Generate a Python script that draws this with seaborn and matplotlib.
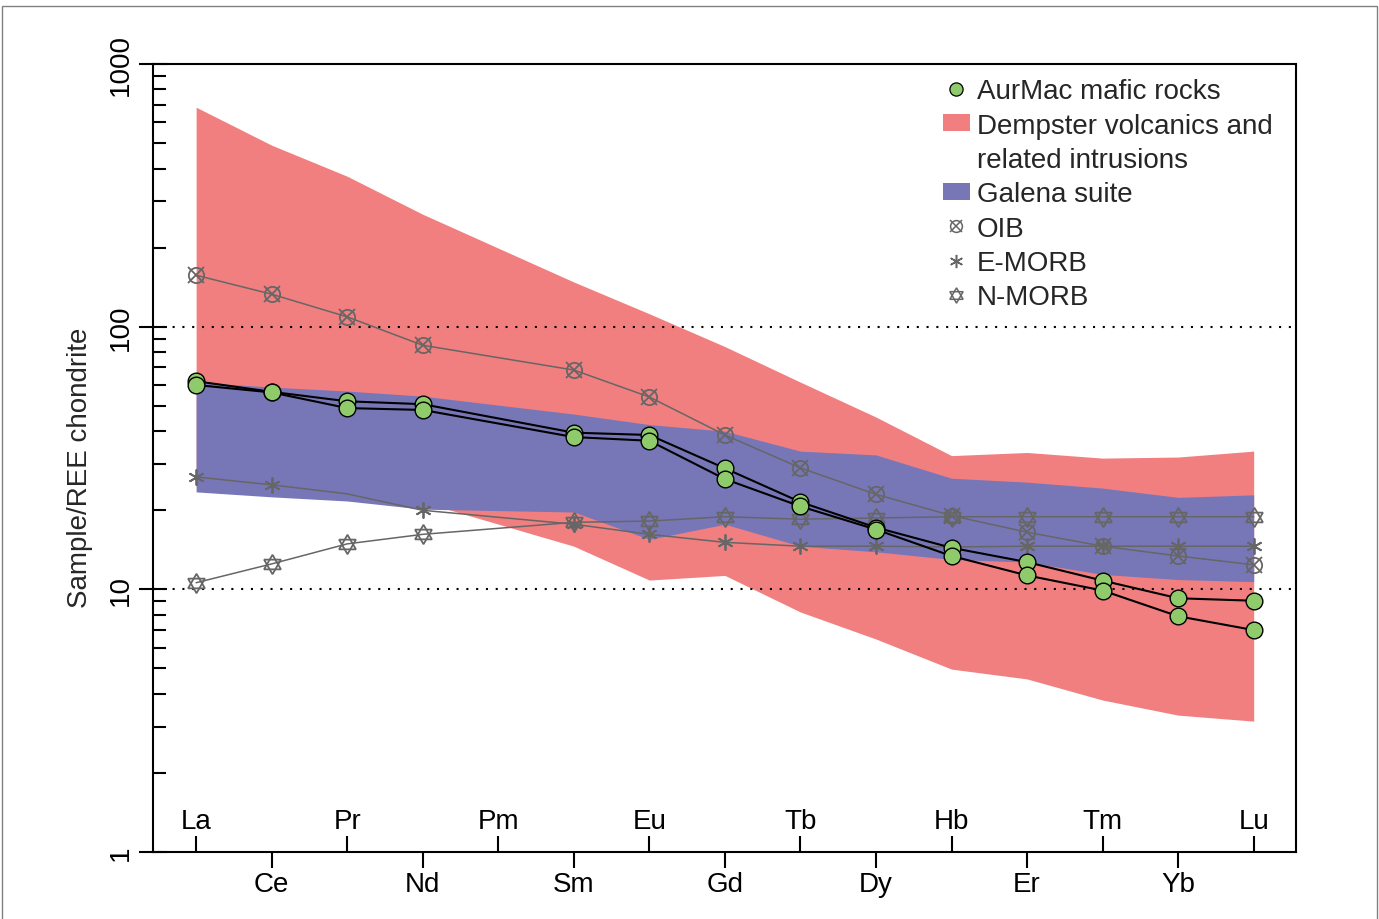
import numpy as np
import pandas as pd
import matplotlib
matplotlib.use('Agg')
import matplotlib.pyplot as plt
import seaborn as sns
from matplotlib.ticker import FixedLocator, FixedFormatter, LogLocator, NullFormatter
from matplotlib.lines import Line2D
from matplotlib.patches import Patch, Rectangle
from matplotlib.legend_handler import HandlerTuple

# REE order (Pm has no data)
elements = ['La', 'Ce', 'Pr', 'Nd', 'Pm', 'Sm', 'Eu', 'Gd', 'Tb', 'Dy', 'Hb', 'Er', 'Tm', 'Yb', 'Lu']
nan = np.nan

# AurMac mafic rocks (two samples)
aurmac_1 = [62, 56.5, 52, 50.7, nan, 39.5, 38.7, 28.9, 21.5, 17.2, 14.4, 12.7, 10.8, 9.25, 9.05]
aurmac_2 = [60, 56.2, 49, 48.2, nan, 38, 36.8, 26.3, 20.7, 16.9, 13.4, 11.3, 9.9, 7.9, 7.0]

# reference patterns
oib = [157, 133, 109, 85, nan, 68.4, 54, 38.7, 29, 23, 19.1, 16.5, 14.6, 13.4, 12.4]
e_morb = [26.8, 25.0, 23.1, 20.0, nan, 17.7, 16.2, 15.1, 14.6, 14.6, 14.5, 14.6, 14.6, 14.6, 14.6]
n_morb = [10.6, 12.5, 14.9, 16.2, nan, 18.0, 18.2, 18.9, 18.5, 18.7, 18.9, 18.9, 18.9, 18.9, 18.9]

# fields
dempster_upper = [685, 491, 374, 268, nan, 148, 112, 84, 61.5, 45.3, 32.3, 33.2, 31.6, 31.9, 33.6]
dempster_lower = [25, 24, 23, 21.5, nan, 14.6, 10.85, 11.3, 8.2, 6.47, 4.97, 4.56, 3.79, 3.32, 3.15]
galena_upper = [61.5, 58.9, 56.9, 54.4, nan, 46.5, 42.4, 40, 33.6, 32.5, 26.5, 25.6, 24.3, 22.4, 22.9]
galena_lower = [23.5, 22.5, 21.7, 20.2, nan, 19.7, 15.5, 17.7, 14.6, 13.9, 13.0, 12.7, 11.4, 10.9, 10.7]

df = pd.DataFrame({
    'pos': np.arange(len(elements)), 'element': elements,
    'aurmac_1': aurmac_1, 'aurmac_2': aurmac_2,
    'oib': oib, 'e_morb': e_morb, 'n_morb': n_morb,
    'dem_hi': dempster_upper, 'dem_lo': dempster_lower,
    'gal_hi': galena_upper, 'gal_lo': galena_lower,
})
d = df.dropna()

red = '#F17F80'
blue = '#7777B8'
green = '#8FCA6B'
gray = '#666666'

sns.set_theme(style='ticks')
plt.rcParams['font.family'] = ['Liberation Sans', 'DejaVu Sans']
plt.rcParams['axes.linewidth'] = 1.5

fig = plt.figure(figsize=(13.79, 9.20), dpi=100)
ax = fig.add_axes([0.111, 0.0728, 0.8288, 0.8565])
ax.set_yscale('log')

# fields
ax.fill_between(d['pos'], d['dem_lo'], d['dem_hi'], color=red, lw=0, zorder=1)
ax.fill_between(d['pos'], d['gal_lo'], d['gal_hi'], color=blue, lw=0, zorder=1.1)

# dotted guides
for v in [10, 100]:
    ax.axhline(v, color='black', lw=1.5, ls=(0, (1, 3.7)), zorder=1.5)

# OIB
sns.lineplot(x=d['pos'], y=d['oib'], ax=ax, color=gray, lw=1.1, marker='o', ms=11,
             mfc='none', mec=gray, mew=1.3, estimator=None, sort=False, zorder=2)
ax.plot(d['pos'], d['oib'], ls='none', marker='x', ms=11, mec=gray, mew=1.3, zorder=2)

# E-MORB (no symbol at Pr)
sns.lineplot(x=d['pos'], y=d['e_morb'], ax=ax, color=gray, lw=1.1, marker=(6, 2, 0), ms=11.5,
             mec=gray, mew=1.3, markevery=[0, 1, 3, 4, 5, 6, 7, 8, 9, 10, 11, 12, 13],
             estimator=None, sort=False, zorder=2)

# N-MORB (hexagram = two overlaid triangles)
sns.lineplot(x=d['pos'], y=d['n_morb'], ax=ax, color=gray, lw=1.1, marker=(3, 0, 0), ms=14,
             mfc='none', mec=gray, mew=1.3, estimator=None, sort=False, zorder=2)
ax.plot(d['pos'], d['n_morb'], ls='none', marker=(3, 0, 180), ms=14, mfc='none',
        mec=gray, mew=1.3, zorder=2)

# AurMac samples
for col in ['aurmac_1', 'aurmac_2']:
    sns.lineplot(x=d['pos'], y=d[col], ax=ax, color='black', lw=1.5, marker='o', ms=12,
                 mfc=green, mec='black', mew=1.0, estimator=None, sort=False, zorder=3)

# axes limits and ticks
ax.set_xlim(-0.57, 14.56)
ax.set_ylim(1, 1000)
pos = df['pos'].to_numpy()
ax.xaxis.set_major_locator(FixedLocator(pos[1::2]))
ax.xaxis.set_major_formatter(FixedFormatter(elements[1::2]))
ax.xaxis.set_minor_locator(FixedLocator(pos[0::2]))
ax.xaxis.set_minor_formatter(FixedFormatter(elements[0::2]))
ax.tick_params(axis='x', which='major', direction='out', length=11.5, width=1.5,
               pad=2, labelsize=20, colors='black')
ax.tick_params(axis='x', which='minor', direction='in', length=11.5, width=1.5,
               pad=-17, labelsize=20, colors='black', labelbottom=True)
for lab in ax.get_xticklabels(minor=True):
    lab.set_va('baseline')

ax.set_yticks([1, 10, 100, 1000], labels=['1', '10', '100', '1000'])
ax.yaxis.set_minor_locator(LogLocator(base=10, subs=np.arange(2, 10)))
ax.yaxis.set_minor_formatter(NullFormatter())
ax.tick_params(axis='y', which='major', direction='inout', length=20, width=1.5,
               pad=4, labelsize=20, labelrotation=90, colors='black')
ax.tick_params(axis='y', which='minor', direction='in', length=9.5, width=1.5, colors='black')
for lab in ax.get_yticklabels():
    lab.set_va('center')

ax.set_xlabel('')
ax.set_ylabel('Sample/REE chondrite', fontsize=20)
ax.yaxis.set_label_coords(-0.0525, 0.4886)
for s in ax.spines.values():
    s.set_visible(True)
    s.set_color('black')
    s.set_linewidth(1.5)

# legend
h_aur = Line2D([], [], ls='none', marker='o', ms=9.5, mfc=green, mec='black', mew=0.9)
h_dem = Patch(facecolor=red, edgecolor='none')
h_blank = Line2D([], [], ls='none')
h_gal = Patch(facecolor=blue, edgecolor='none')
h_oib = (Line2D([], [], ls='none', marker='o', ms=8.5, mfc='none', mec=gray, mew=1.1),
         Line2D([], [], ls='none', marker='x', ms=8.5, mec=gray, mew=1.1))
h_em = Line2D([], [], ls='none', marker=(6, 2, 0), ms=9.5, mec=gray, mew=1.1)
h_nm = (Line2D([], [], ls='none', marker=(3, 0, 0), ms=11, mfc='none', mec=gray, mew=1.1),
        Line2D([], [], ls='none', marker=(3, 0, 180), ms=11, mfc='none', mec=gray, mew=1.1))
leg = ax.legend([h_aur, h_dem, h_blank, h_gal, h_oib, h_em, h_nm],
                ['AurMac mafic rocks', 'Dempster volcanics and', 'related intrusions',
                 'Galena suite', 'OIB', 'E-MORB', 'N-MORB'],
                handler_map={tuple: HandlerTuple(ndivide=1, pad=0)},
                loc='upper left', bbox_to_anchor=(0.691, 0.982), borderaxespad=0,
                borderpad=0, frameon=False, fontsize=20, handlelength=0.97,
                handleheight=0.55, handletextpad=0.25, labelspacing=0.3)

# thin frame around the figure
fig.add_artist(Rectangle((0.0015, -0.01), 0.997, 1.0024, transform=fig.transFigure,
                         fill=False, edgecolor='#808080', lw=1))

fig.savefig('out.png', dpi=100)
